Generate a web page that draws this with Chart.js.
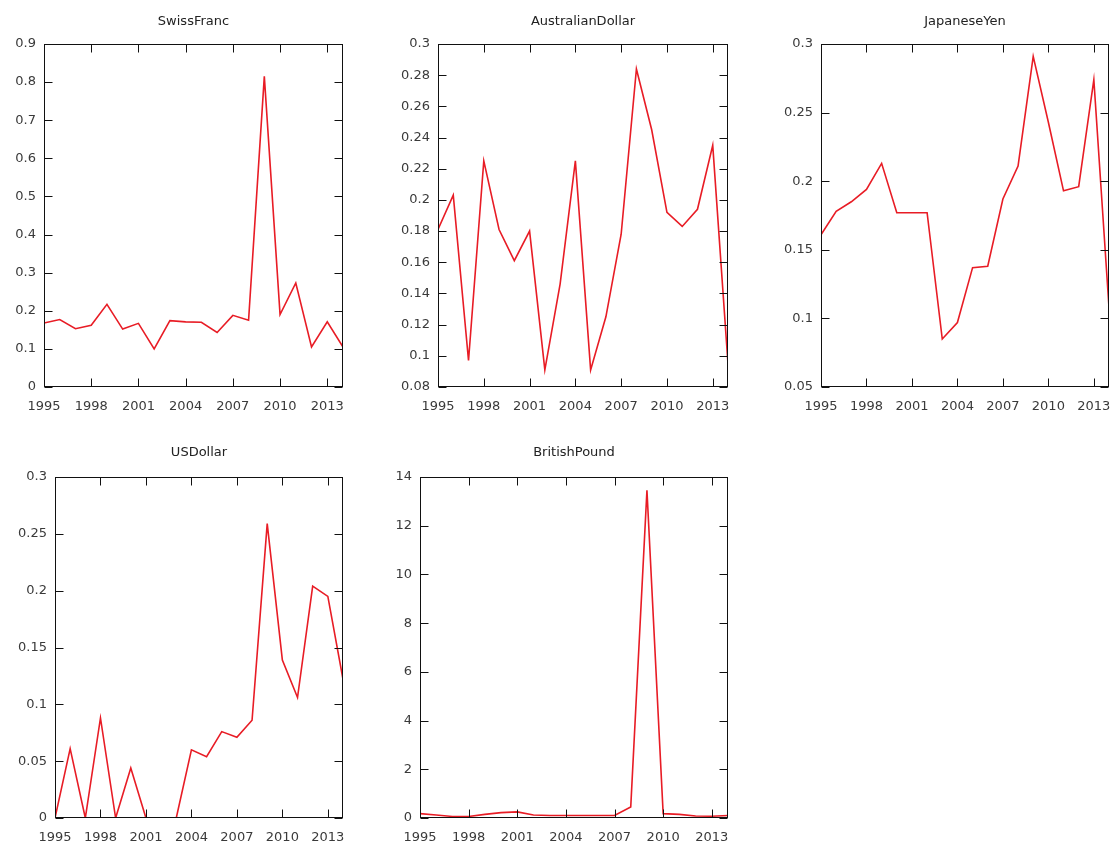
<!DOCTYPE html>
<html>
<head>
    <meta charset="utf-8">
    <title>Currency panels</title>
    <script src="https://cdn.jsdelivr.net/npm/chart.js"></script>
    <style>
        body { margin: 0; background: #fff; width: 1120px; height: 846px; position: relative; overflow: hidden; }
        .panel { position: absolute; }
    </style>
</head>
<body>
    <div class="panel" style="left:0px;top:0px"><canvas id="swiss" width="370" height="420"></canvas></div>
    <div class="panel" style="left:375px;top:0px"><canvas id="aud" width="375" height="420"></canvas></div>
    <div class="panel" style="left:755px;top:0px"><canvas id="yen" width="365" height="420"></canvas></div>
    <div class="panel" style="left:0px;top:430px"><canvas id="usd" width="370" height="416"></canvas></div>
    <div class="panel" style="left:375px;top:430px"><canvas id="gbp" width="375" height="416"></canvas></div>

    <script>
        // data
        const years = [1995, 1996, 1997, 1998, 1999, 2000, 2001, 2002, 2003, 2004,
                       2005, 2006, 2007, 2008, 2009, 2010, 2011, 2012, 2013, 2014];
        const swissFranc = [0.168, 0.177, 0.153, 0.162, 0.217, 0.152, 0.167, 0.100, 0.174, 0.171,
                            0.170, 0.143, 0.188, 0.175, 0.815, 0.190, 0.273, 0.105, 0.171, 0.105];
        const australianDollar = [0.181, 0.203, 0.097, 0.225, 0.181, 0.161, 0.180, 0.091, 0.146, 0.225,
                                  0.091, 0.125, 0.178, 0.284, 0.245, 0.192, 0.183, 0.194, 0.235, 0.095];
        const japaneseYen = [0.161, 0.178, 0.185, 0.194, 0.213, 0.177, 0.177, 0.177, 0.085, 0.097,
                             0.137, 0.138, 0.187, 0.211, 0.291, 0.243, 0.193, 0.196, 0.274, 0.108];
        const usDollar = [0, 0.061, 0, 0.088, 0, 0.044, 0, 0, 0, 0.060,
                          0.054, 0.076, 0.071, 0.086, 0.259, 0.139, 0.106, 0.204, 0.195, 0.122];
        const britishPound = [0.18, 0.12, 0.06, 0.06, 0.15, 0.22, 0.25, 0.12, 0.1, 0.1,
                              0.1, 0.1, 0.1, 0.45, 13.45, 0.18, 0.15, 0.08, 0.07, 0.1];

        // y ranges [min, max, step]
        const swissRange = [0, 0.9, 0.1];
        const audRange = [0.08, 0.3, 0.02];
        const yenRange = [0.05, 0.3, 0.05];
        const usdRange = [0, 0.3, 0.05];
        const gbpRange = [0, 14, 2];
        const xRange = [1995, 2014, 3];

        const FONT = 'DejaVu Sans';

        // black box with inward ticks on all four sides
        const frame = {
            id: 'frame',
            afterDatasetsDraw(chart) {
                const { ctx, chartArea: a, scales } = chart;
                const L = Math.round(a.left) + 0.5, R = Math.round(a.right) - 0.5;
                const T = Math.round(a.top) + 0.5, B = Math.round(a.bottom) - 0.5;
                ctx.save();
                ctx.strokeStyle = '#111';
                ctx.lineWidth = 1;
                ctx.strokeRect(L, T, R - L, B - T);
                ctx.beginPath();
                scales.x.ticks.forEach(t => {
                    const x = Math.round(scales.x.getPixelForValue(t.value)) + 0.5;
                    ctx.moveTo(x, B); ctx.lineTo(x, B - 8);
                    ctx.moveTo(x, T); ctx.lineTo(x, T + 8);
                });
                scales.y.ticks.forEach(t => {
                    const y = Math.round(scales.y.getPixelForValue(t.value)) + 0.5;
                    ctx.moveTo(L, y); ctx.lineTo(L + 8, y);
                    ctx.moveTo(R, y); ctx.lineTo(R - 8, y);
                });
                ctx.stroke();
                ctx.restore();
            }
        };

        function panel(id, name, values, range, box) {
            const [yMin, yMax, yStep] = range;
            new Chart(document.getElementById(id), {
                type: 'line',
                data: {
                    datasets: [{
                        data: years.map((yr, i) => ({ x: yr, y: values[i] })),
                        borderColor: '#e81c25',
                        borderWidth: 1.6,
                        pointRadius: 0,
                        tension: 0
                    }]
                },
                options: {
                    responsive: false,
                    animation: false,
                    layout: { padding: { left: 0, top: 0, right: box.right, bottom: 0 } },
                    plugins: {
                        legend: { display: false },
                        tooltip: { enabled: false },
                        title: {
                            display: true,
                            text: name,
                            fullSize: false,
                            color: '#222',
                            font: { family: FONT, size: 13, weight: 'normal', lineHeight: 1 },
                            padding: { top: box.titleTop, bottom: box.titleBottom }
                        }
                    },
                    scales: {
                        x: {
                            type: 'linear',
                            min: xRange[0],
                            max: xRange[1],
                            grid: { display: false, drawTicks: false },
                            border: { display: false },
                            ticks: {
                                stepSize: xRange[2],
                                includeBounds: false,
                                autoSkip: false,
                                maxRotation: 0,
                                padding: 12,
                                color: '#3a3a3a',
                                font: { family: FONT, size: 13 },
                                callback: v => String(v)
                            },
                            afterFit(s) {
                                s.height = box.xAxis;
                                s.paddingLeft = 0;
                                s.paddingRight = 0;
                            }
                        },
                        y: {
                            min: yMin,
                            max: yMax,
                            grid: { display: false, drawTicks: false },
                            border: { display: false },
                            ticks: {
                                stepSize: yStep,
                                padding: 8,
                                color: '#3a3a3a',
                                font: { family: FONT, size: 13 },
                                callback: v => String(+v.toFixed(4))
                            },
                            afterFit(s) { s.width = box.yAxis; }
                        }
                    }
                },
                plugins: [frame]
            });
        }

        panel('swiss', 'SwissFranc', swissFranc, swissRange,
            { yAxis: 44, right: 27, xAxis: 33, titleTop: 15, titleBottom: 16 });
        panel('aud', 'AustralianDollar', australianDollar, audRange,
            { yAxis: 63, right: 22, xAxis: 33, titleTop: 15, titleBottom: 16 });
        panel('yen', 'JapaneseYen', japaneseYen, yenRange,
            { yAxis: 66, right: 11, xAxis: 33, titleTop: 15, titleBottom: 16 });
        panel('usd', 'USDollar', usDollar, usdRange,
            { yAxis: 55, right: 27, xAxis: 28, titleTop: 16, titleBottom: 18 });
        panel('gbp', 'BritishPound', britishPound, gbpRange,
            { yAxis: 45, right: 22, xAxis: 28, titleTop: 16, titleBottom: 18 });
    </script>
</body>
</html>
